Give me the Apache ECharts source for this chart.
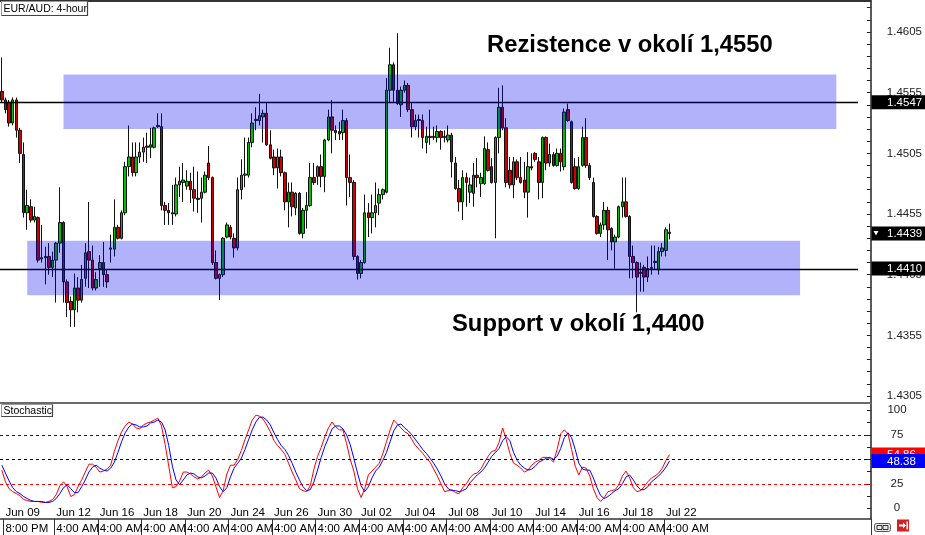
<!DOCTYPE html>
<html><head><meta charset="utf-8">
<script src="https://cdn.jsdelivr.net/npm/echarts@6/dist/echarts.min.js"></script>
<style>html,body{margin:0;padding:0;background:#fff}#c{width:925px;height:535px}</style>
</head><body><div id="c"></div>
<script>
// ---- candle data (EUR/AUD 4-hour) ----
const opens = [
1.4556,1.4549,1.4547,1.4530,1.4549,1.4524,1.4504,1.4456,1.4461,1.4450,
1.4452,1.4418,1.4420,1.4420,1.4411,1.4417,1.4431,1.4448,1.4399,1.4383,
1.4376,1.4394,1.4384,1.4402,1.4424,1.4417,1.4394,1.4410,1.4415,1.4405,
1.4426,1.4426,1.4444,1.4435,1.4456,1.4494,1.4502,1.4489,1.4502,1.4506,
1.4511,1.4510,1.4510,1.4527,1.4527,1.4462,1.4458,1.4456,1.4455,1.4479,
1.4481,1.4478,1.4482,1.4475,1.4468,1.4468,1.4473,1.4497,1.4485,1.4415,
1.4402,1.4405,1.4436,1.4444,1.4435,1.4427,1.4475,1.4487,1.4487,1.4514,
1.4532,1.4532,1.4535,1.4538,1.4512,1.4502,1.4493,1.4502,1.4489,1.4465,
1.4473,1.4460,1.4472,1.4439,1.4458,1.4462,1.4485,1.4486,1.4494,1.4486,
1.4516,1.4535,1.4524,1.4523,1.4522,1.4532,1.4485,1.4481,1.4420,1.4406,
1.4415,1.4456,1.4452,1.4456,1.4464,1.4471,1.4473,1.4557,1.4578,1.4557,
1.4545,1.4557,1.4561,1.4541,1.4527,1.4532,1.4532,1.4514,1.4519,1.4519,
1.4518,1.4523,1.4518,1.4516,1.4520,1.4497,1.4476,1.4465,1.4485,1.4473,
1.4472,1.4487,1.4480,1.4480,1.4508,1.4494,1.4481,1.4518,1.4543,1.4526,
1.4491,1.4479,1.4498,1.4485,1.4483,1.4473,1.4494,1.4505,1.4498,1.4481,
1.4518,1.4497,1.4504,1.4495,1.4505,1.4494,1.4541,1.4531,1.4494,1.4476,
1.4495,1.4518,1.4495,1.4481,1.4453,1.4439,1.4446,1.4458,1.4443,1.4432,
1.4436,1.4461,1.4465,1.4453,1.4420,1.4415,1.4407,1.4411,1.4403,1.4410,
1.4415,1.4409,1.4424,1.4425,1.4440];
const closes = [
1.4549,1.4541,1.4530,1.4549,1.4524,1.4505,1.4456,1.4462,1.4450,1.4453,
1.4417,1.4419,1.4419,1.4411,1.4417,1.4431,1.4448,1.4399,1.4382,1.4376,
1.4394,1.4384,1.4401,1.4423,1.4417,1.4394,1.4401,1.4415,1.4405,1.4399,
1.4427,1.4444,1.4435,1.4456,1.4494,1.4502,1.4489,1.4502,1.4506,1.4510,
1.4510,1.4512,1.4526,1.4528,1.4462,1.4458,1.4456,1.4455,1.4479,1.4482,
1.4483,1.4482,1.4475,1.4468,1.4467,1.4473,1.4487,1.4485,1.4415,1.4402,
1.4405,1.4435,1.4446,1.4436,1.4427,1.4475,1.4487,1.4488,1.4514,1.4530,
1.4533,1.4536,1.4538,1.4512,1.4501,1.4493,1.4502,1.4489,1.4465,1.4473,
1.4461,1.4472,1.4439,1.4458,1.4462,1.4485,1.4481,1.4494,1.4486,1.4516,
1.4535,1.4524,1.4522,1.4521,1.4532,1.4485,1.4481,1.4420,1.4406,1.4415,
1.4456,1.4452,1.4456,1.4462,1.4471,1.4475,1.4557,1.4578,1.4557,1.4546,
1.4557,1.4561,1.4541,1.4527,1.4532,1.4533,1.4518,1.4519,1.4518,1.4518,
1.4523,1.4518,1.4519,1.4520,1.4498,1.4476,1.4465,1.4485,1.4481,1.4479,
1.4487,1.4485,1.4485,1.4509,1.4491,1.4481,1.4518,1.4543,1.4526,1.4481,
1.4479,1.4498,1.4485,1.4481,1.4473,1.4494,1.4493,1.4500,1.4481,1.4518,
1.4497,1.4504,1.4495,1.4505,1.4498,1.4539,1.4532,1.4481,1.4476,1.4494,
1.4518,1.4495,1.4485,1.4453,1.4439,1.4446,1.4458,1.4442,1.4432,1.4436,
1.4461,1.4465,1.4453,1.4420,1.4415,1.4403,1.4406,1.4403,1.4410,1.4411,
1.4416,1.4424,1.4427,1.4442,1.4439];
const lows = [
1.4547,1.4538,1.4527,1.4528,1.4518,1.4497,1.4452,1.4442,1.4448,1.4448,
1.4415,1.4415,1.4397,1.4405,1.4403,1.4382,1.4423,1.4382,1.4370,1.4362,
1.4362,1.4374,1.4382,1.4395,1.4394,1.4392,1.4392,1.4395,1.4395,1.4394,
1.4415,1.4420,1.4434,1.4434,1.4454,1.4486,1.4486,1.4486,1.4497,1.4498,
1.4497,1.4501,1.4509,1.4526,1.4458,1.4446,1.4446,1.4446,1.4453,1.4469,
1.4465,1.4475,1.4464,1.4457,1.4456,1.4448,1.4472,1.4483,1.4413,1.4401,
1.4384,1.4403,1.4435,1.4434,1.4419,1.4425,1.4467,1.4477,1.4485,1.4510,
1.4524,1.4528,1.4514,1.4511,1.4500,1.4487,1.4476,1.4486,1.4458,1.4444,
1.4453,1.4454,1.4438,1.4435,1.4443,1.4461,1.4479,1.4479,1.4477,1.4473,
1.4515,1.4505,1.4516,1.4516,1.4516,1.4462,1.4469,1.4417,1.4401,1.4402,
1.4414,1.4436,1.4439,1.4444,1.4454,1.4467,1.4472,1.4547,1.4547,1.4545,
1.4535,1.4555,1.4539,1.4518,1.4524,1.4518,1.4509,1.4505,1.4512,1.4516,
1.4514,1.4508,1.4514,1.4514,1.4485,1.4475,1.4457,1.4450,1.4461,1.4464,
1.4461,1.4477,1.4469,1.4479,1.4490,1.4480,1.4435,1.4505,1.4524,1.4477,
1.4476,1.4468,1.4483,1.4480,1.4468,1.4452,1.4491,1.4498,1.4467,1.4468,
1.4491,1.4494,1.4494,1.4494,1.4490,1.4491,1.4531,1.4480,1.4475,1.4475,
1.4494,1.4493,1.4483,1.4452,1.4438,1.4436,1.4442,1.4417,1.4425,1.4410,
1.4435,1.4452,1.4452,1.4402,1.4402,1.4374,1.4391,1.4391,1.4399,1.4405,
1.4409,1.4405,1.4420,1.4420,1.4434];
const highs = [
1.4584,1.4551,1.4549,1.4551,1.4551,1.4526,1.4514,1.4475,1.4467,1.4461,
1.4453,1.4446,1.4428,1.4431,1.4424,1.4432,1.4477,1.4449,1.4401,1.4387,
1.4406,1.4403,1.4413,1.4431,1.4465,1.4429,1.4407,1.4421,1.4432,1.4409,
1.4438,1.4467,1.4446,1.4458,1.4498,1.4528,1.4514,1.4514,1.4514,1.4518,
1.4522,1.4526,1.4527,1.4538,1.4538,1.4465,1.4464,1.4479,1.4485,1.4494,
1.4497,1.4491,1.4489,1.4494,1.4490,1.4485,1.4490,1.4511,1.4486,1.4425,
1.4406,1.4436,1.4448,1.4446,1.4439,1.4485,1.4500,1.4518,1.4518,1.4538,
1.4543,1.4554,1.4541,1.4547,1.4524,1.4508,1.4509,1.4508,1.4490,1.4481,
1.4481,1.4473,1.4473,1.4460,1.4473,1.4497,1.4497,1.4495,1.4504,1.4517,
1.4541,1.4549,1.4528,1.4531,1.4541,1.4534,1.4504,1.4483,1.4421,1.4417,
1.4471,1.4464,1.4471,1.4481,1.4476,1.4476,1.4567,1.4592,1.4580,1.4604,
1.4560,1.4565,1.4563,1.4547,1.4537,1.4537,1.4537,1.4527,1.4541,1.4527,
1.4528,1.4524,1.4524,1.4528,1.4522,1.4502,1.4483,1.4491,1.4489,1.4485,
1.4497,1.4501,1.4489,1.4519,1.4514,1.4501,1.4519,1.4559,1.4561,1.4534,
1.4502,1.4502,1.4500,1.4502,1.4498,1.4506,1.4505,1.4506,1.4502,1.4519,
1.4519,1.4513,1.4506,1.4509,1.4509,1.4542,1.4546,1.4532,1.4501,1.4502,
1.4527,1.4534,1.4497,1.4485,1.4454,1.4448,1.4465,1.4461,1.4444,1.4438,
1.4462,1.4485,1.4485,1.4454,1.4429,1.4416,1.4415,1.4413,1.4420,1.4429,
1.4429,1.4428,1.4431,1.4444,1.4447];

// ---- stochastic %K (red) and %D (blue) ----
const stochK = [
39,27,20,17,15,13,9,8,7,7, 7,6,6,7,9,14,23,27,22,12,
14,22,29,37,45,45,42,37,38,40, 44,58,69,78,84,88,86,82,81,85,
87,88,90,92,84,65,43,21,22,28, 37,37,35,32,30,32,36,39,33,22,
11,18,35,44,44,50,59,70,80,90, 95,94,91,85,78,69,64,60,55,46,
37,29,20,18,17,23,40,53,62,73, 82,88,83,80,80,66,50,38,20,11,
20,34,38,42,46,56,68,80,90,86, 82,78,76,70,64,60,56,51,47,40,
33,25,17,18,19,16,15,21,25,31, 35,36,40,47,53,58,59,67,82,70,
56,46,44,41,37,39,44,47,49,52, 52,51,47,60,76,80,76,60,43,34,
42,41,33,20,11,7,11,17,18,19, 24,33,38,31,21,17,18,22,27,31,
33,36,41,49,54.86];
const stochD = [
44,36,28,21,17,15,12,10,8,7, 7,7,6,6,7,10,15,21,24,20,
16,16,22,29,37,42,44,41,39,38, 41,47,57,68,77,83,86,85,83,83,
84,87,88,90,88,80,64,43,29,24, 29,34,36,35,32,31,33,36,36,31,
22,17,21,32,41,46,51,60,70,80, 88,93,93,90,85,77,70,64,60,54,
46,37,29,22,18,19,27,39,52,63, 72,81,84,84,81,75,65,51,36,23,
17,22,31,38,42,49,57,68,79,85, 86,82,79,75,70,65,60,56,51,46,
40,33,25,20,18,18,17,18,20,26, 30,34,37,41,47,53,57,61,69,73,
69,57,49,44,41,39,40,43,47,49, 51,52,50,53,61,72,77,72,60,46,
40,39,39,31,21,13,10,12,15,18, 20,25,32,34,29,23,19,19,22,27,
30,33,37,42,48.38];

// ---- axis labels ----
const tickIdx = [1,15,27,39,51,63,75,87,99,111,123,135,147,159,171,183];
const dateLabels = ['Jun 09','Jun 12','Jun 16','Jun 18','Jun 20','Jun 24','Jun 26','Jun 30','Jul 02','Jul 04','Jul 08','Jul 10','Jul 14','Jul 16','Jul 18','Jul 22'];
const timeLabels = ['8:00 PM','4:00 AM','4:00 AM','4:00 AM','4:00 AM','4:00 AM','4:00 AM','4:00 AM','4:00 AM','4:00 AM','4:00 AM','4:00 AM','4:00 AM','4:00 AM','4:00 AM','4:00 AM'];
const priceLabels = [1.4305,1.4355,1.4405,1.4455,1.4505,1.4555,1.4605];
const priceMinorTicks = [1.4305,1.4315,1.4325,1.4335,1.4345,1.4355,1.4365,1.4375,1.4385,1.4395,1.4405,1.4415,1.4425,1.4435,1.4445,1.4455,1.4465,1.4475,1.4485,1.4495,1.4505,1.4515,1.4525,1.4535,1.4545,1.4555,1.4565,1.4575,1.4585,1.4595,1.4605,1.4615,1.4625];
const stochLabels = [0,25,75,100];
const stochMinorTicks = [0,12.5,25,37.5,50,62.5,75,87.5,100];
const stochLevels = [75,50,25];

// ---- annotations ----
const resistanceZone = [1.4525, 1.4570], resistanceSpan = [17, 230];
const supportZone = [1.4388, 1.4433], supportSpan = [7, 220];
const resistanceLevel = 1.4547, supportLevel = 1.4410, lastPrice = 1.4439;
const levelLineEnd = 236;
const SLOTS = 240;

const FONT = "'Liberation Sans', Arial, sans-serif";
const cats = Array.from({length: SLOTS}, (_, i) => String(i));
const tickPos = new Map(tickIdx.map((t, k) => [t, k]));
const isTick = (idx) => tickPos.has(idx);
const candles = opens.map((o, i) => [o, closes[i], lows[i], highs[i]]);

const chart = echarts.init(document.getElementById('c'), null, {renderer: 'canvas'});
const option = {
  animation: false,
  backgroundColor: '#fff',
  grid: [
    {left: 0, right: 54, top: 1, height: 402},
    {left: 0, right: 54, top: 404, height: 115}
  ],
  xAxis: [
    {type: 'category', gridIndex: 0, data: cats, position: 'top', boundaryGap: true,
     axisLine: {show: true, lineStyle: {color: '#333', width: 2}}, axisTick: {show: false}, axisLabel: {show: false}},
    {type: 'category', gridIndex: 1, data: cats, position: 'bottom', boundaryGap: true,
     axisLine: {show: false}, axisTick: {show: false},
     axisLabel: {inside: true, margin: 0, interval: (i) => isTick(i), align: 'left',
       formatter: (v, i) => isTick(i) ? dateLabels[tickPos.get(i)] : '',
       fontSize: 11.5, fontFamily: FONT, color: '#000'}},
    {type: 'category', gridIndex: 1, data: cats, position: 'bottom', boundaryGap: true,
     axisLine: {show: true, lineStyle: {color: '#333', width: 1.5}},
     axisTick: {show: true, interval: (i) => isTick(i), length: 16, lineStyle: {color: '#333', width: 1}},
     axisLabel: {margin: 4, interval: (i) => isTick(i), align: 'left',
       formatter: (v, i) => isTick(i) ? timeLabels[tickPos.get(i)] : '',
       fontSize: 11.5, fontFamily: FONT, color: '#000'}}
  ],
  yAxis: [
    {type: 'value', gridIndex: 0, position: 'right', min: 1.429923, max: 1.463055,
     axisLine: {show: true, lineStyle: {color: '#222', width: 1.5}},
     axisTick: {show: true, inside: true, length: 4, customValues: priceMinorTicks, lineStyle: {color: '#222'}},
     axisLabel: {customValues: priceLabels, formatter: (v) => v.toFixed(4), margin: 16,
       fontSize: 11.5, fontFamily: FONT, color: '#222'},
     splitLine: {show: false}},
    {type: 'value', gridIndex: 1, position: 'right', min: -10.9, max: 106.4,
     axisLine: {show: true, lineStyle: {color: '#222', width: 1.5}},
     axisTick: {show: true, inside: true, length: 4, customValues: stochMinorTicks, lineStyle: {color: '#222'}},
     axisLabel: {customValues: stochLabels, margin: 26, align: 'center',
       fontSize: 11.5, fontFamily: FONT, color: '#222'},
     splitLine: {show: false}}
  ],
  series: [
    {type: 'candlestick', xAxisIndex: 0, yAxisIndex: 0, data: candles, barWidth: 3,
     itemStyle: {color: '#00c000', color0: '#d00000', borderColor: '#111', borderColor0: '#111', borderColorDoji: '#111', borderWidth: 1}},
    {type: 'line', xAxisIndex: 1, yAxisIndex: 1, data: stochK, showSymbol: false, symbol: 'none',
     lineStyle: {color: '#ff0000', width: 1}, z: 3,
     markLine: {silent: true, symbol: ['none', 'none'], label: {show: false},
       lineStyle: {type: [3, 3], width: 1},
       data: [
         {yAxis: stochLevels[0], lineStyle: {color: '#0000ff', type: [3, 3], width: 1}},
         {yAxis: stochLevels[1], lineStyle: {color: '#000000', type: [3, 3], width: 1}},
         {yAxis: stochLevels[2], lineStyle: {color: '#ff0000', type: [3, 3], width: 1}}
       ]}},
    {type: 'line', xAxisIndex: 1, yAxisIndex: 1, data: stochD, showSymbol: false, symbol: 'none',
     lineStyle: {color: '#0000ff', width: 1}, z: 4}
  ]
};
chart.setOption(option);

const px = (i) => chart.convertToPixel({xAxisIndex: 0}, i);
const py = (v) => chart.convertToPixel({yAxisIndex: 0}, v);
const sy = (v) => chart.convertToPixel({yAxisIndex: 1}, v);
const AX = 871.5;

function zoneRect(span, zone) {
  const x1 = px(span[0]), x2 = px(span[1]);
  const y1 = py(zone[1]), y2 = py(zone[0]);
  return {type: 'rect', silent: true, z: 50, shape: {x: x1, y: y1, width: x2 - x1, height: y2 - y1},
          style: {fill: 'rgba(0,0,238,0.3)'}};
}
function levelLine(v) {
  const y = Math.round(py(v)) + 0.5;
  return {type: 'line', silent: true, z: 45, shape: {x1: 0, y1: y, x2: px(levelLineEnd), y2: y},
          style: {stroke: '#000', lineWidth: 1.6}};
}
function valueBox(y, txt, bg, z) {
  return [
    {type: 'rect', silent: true, z: z, shape: {x: AX, y: y - 7, width: 925 - AX, height: 14}, style: {fill: bg}},
    {type: 'text', silent: true, z: z + 1, x: 887, y: y + 0.5,
     style: {text: txt, fill: '#fff', font: '11.5px ' + FONT, verticalAlign: 'middle', align: 'left'}}
  ];
}
const g = [];
g.push(levelLine(resistanceLevel), levelLine(supportLevel));
g.push(zoneRect(resistanceSpan, resistanceZone), zoneRect(supportSpan, supportZone));
g.push(...valueBox(py(resistanceLevel), resistanceLevel.toFixed(4), '#000', 70));
g.push(...valueBox(py(lastPrice), lastPrice.toFixed(4), '#000', 70));
const lp = py(lastPrice);
g.push({type: 'polygon', silent: true, z: 72, shape: {points: [[873.5, lp - 2.5], [878.5, lp - 2.5], [876, lp + 2]]}, style: {fill: '#fff'}});
g.push(...valueBox(py(supportLevel), supportLevel.toFixed(4), '#000', 70));
g.push(...valueBox(sy(stochK[stochK.length - 1]), stochK[stochK.length - 1].toFixed(2), '#ff0000', 70));
g.push(...valueBox(sy(stochD[stochD.length - 1]), stochD[stochD.length - 1].toFixed(2), '#0000ff', 74));
// panel separator
g.push({type: 'rect', silent: true, z: 30, shape: {x: 0, y: 402, width: 871, height: 2}, style: {fill: '#6a6a6a'}});
// annotations
g.push({type: 'text', silent: true, z: 80, x: 487, y: 45.7,
  style: {text: 'Rezistence v okolí 1,4550', fill: '#000', font: 'bold 23.8px ' + FONT, verticalAlign: 'middle', align: 'left'}});
g.push({type: 'text', silent: true, z: 80, x: 452, y: 324,
  style: {text: 'Support v okolí 1,4400', fill: '#000', font: 'bold 23.8px ' + FONT, verticalAlign: 'middle', align: 'left'}});
// panel captions
function caption(x, y, w, h, txt) {
  return [
    {type: 'rect', silent: true, z: 85, shape: {x: x, y: y, width: w, height: h}, style: {fill: '#fff', stroke: '#9a9a9a', lineWidth: 1}},
    {type: 'polyline', silent: true, z: 86, shape: {points: [[x + w, y], [x + w, y + h], [x, y + h]]}, style: {stroke: '#444', lineWidth: 1.2, fill: null}},
    {type: 'text', silent: true, z: 87, x: x + 2, y: y + h / 2 + 0.5, style: {text: txt, fill: '#000', font: '10.5px ' + FONT, verticalAlign: 'middle'}}
  ];
}
g.push(...caption(1.5, 1.5, 86, 14, 'EUR/AUD: 4-hour'));
g.push(...caption(1.5, 404.5, 51, 12, 'Stochastic'));
// bottom-right icons
g.push({type: 'rect', silent: true, z: 60, shape: {x: 874.5, y: 523.5, width: 16, height: 8, r: 2}, style: {fill: '#e8e8e8', stroke: '#555', lineWidth: 1}});
g.push({type: 'rect', silent: true, z: 61, shape: {x: 877, y: 525.5, width: 5, height: 4}, style: {fill: null, stroke: '#333', lineWidth: 1}});
g.push({type: 'rect', silent: true, z: 61, shape: {x: 883, y: 525.5, width: 5, height: 4}, style: {fill: null, stroke: '#333', lineWidth: 1}});
g.push({type: 'rect', silent: true, z: 60, shape: {x: 897, y: 519.5, width: 12, height: 12}, style: {fill: '#d42020'}});
g.push({type: 'polyline', silent: true, z: 61, shape: {points: [[899, 525.5], [905, 525.5]]}, style: {stroke: '#fff', lineWidth: 2}});
g.push({type: 'polygon', silent: true, z: 61, shape: {points: [[903, 522.5], [906, 525.5], [903, 528.5]]}, style: {fill: '#fff'}});
g.push({type: 'rect', silent: true, z: 61, shape: {x: 906.5, y: 521.5, width: 1.5, height: 8}, style: {fill: '#fff'}});
chart.setOption({graphic: g});
</script>
</body></html>
